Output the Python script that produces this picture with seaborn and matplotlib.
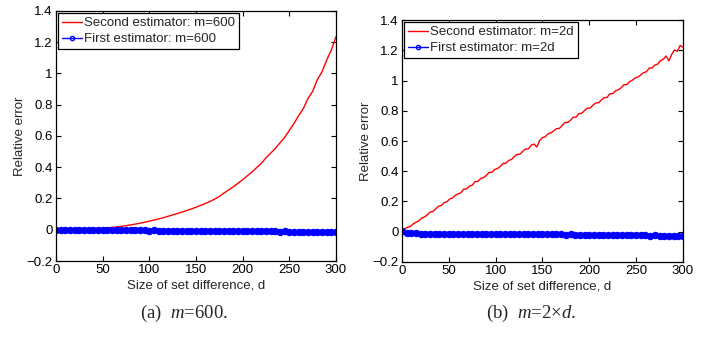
import numpy as np
import pandas as pd
import matplotlib
matplotlib.use("Agg")
import matplotlib.pyplot as plt
import seaborn as sns
from matplotlib.lines import Line2D

# ---------------- data ----------------
d_red_left = list(range(0, 301, 5))
red_left = [0.000, 0.000, 0.001, 0.001, 0.002, 0.003, 0.004, 0.005, 0.006, 0.008, 0.010,
            0.012, 0.015, 0.018, 0.022, 0.026, 0.031, 0.036, 0.042, 0.048, 0.055,
            0.062, 0.069, 0.077, 0.086, 0.095, 0.104, 0.113, 0.123, 0.133, 0.144,
            0.156, 0.168, 0.181, 0.196, 0.213, 0.235, 0.255, 0.275, 0.297, 0.320,
            0.345, 0.370, 0.397, 0.425, 0.460, 0.490, 0.520, 0.556, 0.590, 0.635,
            0.680, 0.730, 0.775, 0.840, 0.885, 0.960, 1.010, 1.085, 1.150, 1.235]

d_blue = list(range(0, 301, 5))
blue_left = [0.000, 0.000, 0.000, 0.000, -0.001, 0.000, -0.001, -0.001, -0.001, -0.002, -0.002,
             -0.002, -0.003, -0.002, -0.003, -0.003, -0.004, -0.003, -0.004, -0.004, -0.005,
             -0.004, -0.005, -0.005, -0.006, -0.005, -0.006, -0.006, -0.007, -0.006, -0.007,
             -0.007, -0.008, -0.007, -0.008, -0.008, -0.009, -0.008, -0.009, -0.009, -0.010,
             -0.009, -0.010, -0.010, -0.011, -0.010, -0.011, -0.011, -0.012, -0.011, -0.012,
             -0.012, -0.013, -0.012, -0.013, -0.013, -0.014, -0.013, -0.014, -0.014, -0.015]

d_red_right = list(range(0, 301, 3))
red_right = [0.000, 0.020, 0.030, 0.035, 0.052, 0.063, 0.072, 0.090, 0.098, 0.112,
             0.130, 0.133, 0.152, 0.168, 0.174, 0.192, 0.198, 0.217, 0.223, 0.242,
             0.250, 0.258, 0.282, 0.283, 0.302, 0.308, 0.332, 0.333, 0.352, 0.358,
             0.372, 0.392, 0.393, 0.412, 0.418, 0.432, 0.452, 0.453, 0.472, 0.478,
             0.497, 0.512, 0.513, 0.532, 0.547, 0.548, 0.572, 0.580, 0.560, 0.602,
             0.622, 0.628, 0.648, 0.653, 0.667, 0.682, 0.683, 0.702, 0.722, 0.723,
             0.737, 0.757, 0.758, 0.782, 0.783, 0.802, 0.817, 0.818, 0.837, 0.852,
             0.853, 0.872, 0.887, 0.888, 0.912, 0.913, 0.932, 0.938, 0.952, 0.972,
             0.973, 0.992, 1.002, 1.017, 1.023, 1.037, 1.052, 1.058, 1.082, 1.083,
             1.102, 1.108, 1.132, 1.140, 1.162, 1.130, 1.172, 1.202, 1.193, 1.232,
             1.220]

blue_right = [0.003, -0.006, -0.010, -0.011, -0.012, -0.012, -0.012, -0.013, -0.012, -0.013, -0.013,
              -0.013, -0.014, -0.013, -0.014, -0.014, -0.014, -0.015, -0.014, -0.015, -0.015,
              -0.015, -0.016, -0.015, -0.016, -0.016, -0.016, -0.017, -0.016, -0.017, -0.017,
              -0.017, -0.018, -0.018, -0.018, -0.019, -0.018, -0.019, -0.019, -0.020, -0.020,
              -0.020, -0.021, -0.021, -0.021, -0.022, -0.022, -0.022, -0.023, -0.023, -0.023,
              -0.024, -0.024, -0.025, -0.024, -0.025, -0.025, -0.026, -0.025, -0.026, -0.026]

xticks = [0, 50, 100, 150, 200, 250, 300]
yticks = [-0.2, 0, 0.2, 0.4, 0.6, 0.8, 1, 1.2, 1.4]
ytick_labels = ["\u22120.2", "0", "0.2", "0.4", "0.6", "0.8", "1", "1.2", "1.4"]

labels_left = ["Second estimator: m=600", "First estimator: m=600"]
labels_right = ["Second estimator: m=2d", "First estimator: m=2d"]
captions = [r"(a)  $m$=600.", r"(b)  $m$=2×$d$."]
xlabel = "Size of set difference, d"
ylabel = "Relative error"

# ---------------- style ----------------
sns.set_theme(style="ticks")
plt.rcParams["font.family"] = ["Liberation Sans", "DejaVu Sans"]
plt.rcParams["mathtext.fontset"] = "custom"
plt.rcParams["mathtext.rm"] = "Liberation Serif"
plt.rcParams["mathtext.it"] = "Liberation Serif:italic"
FS = 9.5

fig = plt.figure(figsize=(7.13, 3.37), dpi=100)
ax_l = fig.add_axes([0.0785, 0.2255, 0.3927, 0.742])
ax_r = fig.add_axes([0.5638, 0.2226, 0.394, 0.718])


def draw(ax, dr, red, db, blue, labels):
    df_r = pd.DataFrame({"d": dr, "v": red})
    df_b = pd.DataFrame({"d": db, "v": blue})
    sns.lineplot(data=df_r, x="d", y="v", ax=ax, color="#ff0000", lw=1.0,
                 estimator=None, sort=False)
    sns.lineplot(data=df_b, x="d", y="v", ax=ax, color="#0000ff", lw=2.5,
                 marker="o", markersize=4.6, markeredgecolor="#0000ff",
                 markerfacecolor="#0000ff", estimator=None, sort=False)
    ax.set_xlim(0, 300)
    ax.set_ylim(-0.2, 1.4)
    ax.set_xticks(xticks)
    ax.set_xticklabels([str(t) for t in xticks], fontsize=FS)
    ax.set_yticks(yticks)
    ax.set_yticklabels(ytick_labels, fontsize=FS)
    ax.tick_params(direction="in", length=3.5, width=0.8, top=True, right=True,
                   colors="black", pad=2.5)
    for s in ax.spines.values():
        s.set_visible(True)
        s.set_color("black")
        s.set_linewidth(0.9)
    ax.set_xlabel(xlabel, fontsize=FS, labelpad=2)
    ax.set_ylabel(ylabel, fontsize=FS, labelpad=0)
    handles = [Line2D([], [], color="#ff0000", lw=1.0),
               Line2D([], [], color="#0000ff", lw=1.0, marker="o", markersize=3,
                      markerfacecolor="none", markeredgecolor="#0000ff")]
    leg = ax.legend(handles, labels, loc="upper left", fontsize=FS,
                    frameon=True, fancybox=False, framealpha=1,
                    edgecolor="black", borderpad=0.3, handlelength=1.55,
                    handletextpad=0.15, labelspacing=0.3,
                    borderaxespad=0.15)
    leg.get_frame().set_linewidth(0.9)


draw(ax_l, d_red_left, red_left, d_blue, blue_left, labels_left)
draw(ax_r, d_red_right, red_right, d_blue, blue_right, labels_right)

fig.text(184 / 713, 1 - 313 / 337, captions[0], ha="center", va="center",
         fontsize=13.5, family="Liberation Serif")
fig.text(531 / 713, 1 - 313 / 337, captions[1], ha="center", va="center",
         fontsize=13.5, family="Liberation Serif")

fig.savefig("out.png", dpi=100, facecolor="white")
